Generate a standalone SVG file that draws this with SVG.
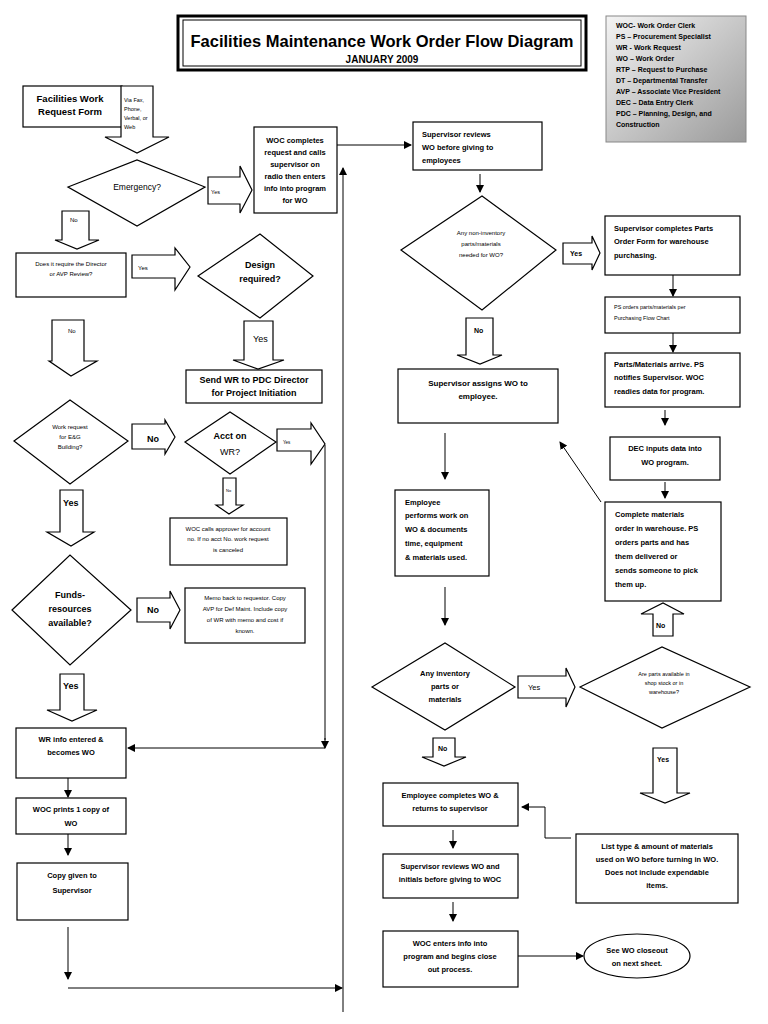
<svg xmlns="http://www.w3.org/2000/svg" width="768" height="1024" viewBox="0 0 768 1024">
<defs>
<marker id="ah" markerWidth="8" markerHeight="8" refX="7" refY="4" orient="auto" markerUnits="userSpaceOnUse"><path d="M0,0 L8,4 L0,8 Z" fill="#000"/></marker>
<linearGradient id="lg" x1="0" y1="0" x2="1" y2="1"><stop offset="0" stop-color="#f4f4f4"/><stop offset="1" stop-color="#9a9a9a"/></linearGradient>
</defs>
<style>
text{font-family:"Liberation Sans",Arial,sans-serif;fill:#000}
.b{font-weight:bold}
.box,.dia,.blk{fill:#fff;stroke:#000;stroke-width:1.2}
.ln{fill:none;stroke:#000;stroke-width:1;marker-end:url(#ah)}
.pl{fill:none;stroke:#000;stroke-width:1}
.s5{font-size:5.5px}.s6{font-size:6px}.s7{font-size:7.5px}.s9{font-size:9px}
</style>
<rect width="768" height="1024" fill="#fff"/>
<g id="title">
<rect x="178" y="16" width="408" height="54" fill="#fff" stroke="#000" stroke-width="3"/>
<rect x="183" y="20" width="398" height="46" fill="none" stroke="#000" stroke-width="1"/>
<text x="382" y="47" text-anchor="middle" class="b" font-size="16.5">Facilities Maintenance Work Order Flow Diagram</text>
<text x="382" y="63" text-anchor="middle" class="b" font-size="10">JANUARY 2009</text>
</g>
<g id="legend">
<rect x="606" y="16" width="140" height="126" fill="url(#lg)" stroke="#888"/>
<g class="b" font-size="7">
<text x="616" y="28">WOC-   Work Order Clerk</text>
<text x="616" y="39">PS – Procurement Specialist</text>
<text x="616" y="50">WR - Work Request</text>
<text x="616" y="61">WO – Work Order</text>
<text x="616" y="72">RTP – Request to Purchase</text>
<text x="616" y="83">DT – Departmental Transfer</text>
<text x="616" y="94">AVP – Associate Vice President</text>
<text x="616" y="105">DEC – Data Entry Clerk</text>
<text x="616" y="116">PDC – Planning, Design, and</text>
<text x="616" y="127">Construction</text>
</g>
</g>
<g id="connectors">
<line class="ln" x1="337" y1="145" x2="411" y2="145"/>
<line class="ln" x1="343" y1="1012" x2="343" y2="168"/>
<polyline class="pl" points="325,445 325,740"/>
<line class="ln" x1="325" y1="738" x2="325" y2="748"/>
<line class="ln" x1="325" y1="748" x2="128" y2="748"/>
<line class="ln" x1="68" y1="778" x2="68" y2="797"/>
<line class="ln" x1="68" y1="834" x2="68" y2="855"/>
<line class="ln" x1="68" y1="927" x2="68" y2="979"/>
<line class="ln" x1="68" y1="988" x2="342" y2="988"/>
<line class="ln" x1="480" y1="174" x2="480" y2="192"/>
<line class="ln" x1="673" y1="275" x2="673" y2="296"/>
<line class="ln" x1="673" y1="333" x2="673" y2="352"/>
<line class="ln" x1="665" y1="410" x2="665" y2="425"/>
<line class="ln" x1="665" y1="482" x2="665" y2="498"/>
<line class="ln" x1="601" y1="502" x2="560" y2="442"/>
<line class="ln" x1="445" y1="433" x2="445" y2="479"/>
<line class="ln" x1="445" y1="587" x2="445" y2="625"/>
<polyline class="ln" points="571,838 545,838 545,807 522,807"/>
<line class="ln" x1="453" y1="830" x2="453" y2="848"/>
<line class="ln" x1="453" y1="902" x2="453" y2="921"/>
<line class="ln" x1="518" y1="956" x2="583" y2="956"/>
</g>
<g id="n_request"><rect class="box" x="23" y="86" width="99" height="41"/><text class="b" font-size="9.5" text-anchor="middle"><tspan x="70" y="102">Facilities Work</tspan><tspan x="70" y="115">Request Form</tspan></text></g>
<g id="a_via"><path class="blk" d="M121,86 H153 V137 H169 L137,153 L105,137 H121 Z"/><text class="s5" fill="#444"><tspan x="124" y="102">Via Fax,</tspan><tspan x="124" y="111">Phone,</tspan><tspan x="124" y="120">Verbal, or</tspan><tspan x="124" y="129">Web</tspan></text></g>
<g id="n_emergency"><polygon class="dia" points="68,187 137,160 205,187 137,226"/><text x="137" y="190" text-anchor="middle" font-size="8.5">Emergency?</text></g>
<g id="a_emyes"><path class="blk" d="M208,177 H240 V166 L252,190 L240,213 V204 H208 Z"/><text x="211" y="194" class="s5">Yes</text></g>
<g id="n_woc"><rect class="box" x="254" y="58" width="0" height="0"/><rect class="box" x="254" y="127" width="83" height="86"/><text class="b s7" text-anchor="middle"><tspan x="295" y="143">WOC completes</tspan><tspan x="295" y="155">request and calls</tspan><tspan x="295" y="167">supervisor on</tspan><tspan x="295" y="179">radio then enters</tspan><tspan x="295" y="191">info into program</tspan><tspan x="295" y="203">for WO</tspan></text></g>
<g id="a_emno"><path class="blk" d="M62,211 H89 V240 H99 L77,249 L55,240 H62 Z"/><text x="70" y="222" class="s6">No</text></g>
<g id="n_director"><rect class="box" x="16" y="253" width="110" height="44"/><text class="s6" text-anchor="middle"><tspan x="71" y="266">Does it require the Director</tspan><tspan x="71" y="276">or AVP Review?</tspan></text></g>
<g id="a_diryes"><path class="blk" d="M132,255 H175 V248 L190,267 L175,290 V278 H132 Z"/><text x="138" y="270" class="s6">Yes</text></g>
<g id="n_design"><polygon class="dia" points="198,276 260,234 313,276 260,318"/><text x="260" y="268" text-anchor="middle" font-size="9" class="b">Design</text><text x="260" y="282" text-anchor="middle" font-size="9" class="b">required?</text></g>
<g id="a_desyes"><path class="blk" d="M244,321 H273 V360 H284 L258,369 L233,360 H244 Z"/><text x="253" y="342" class="s9">Yes</text></g>
<g id="n_send"><rect class="box" x="186" y="370" width="136" height="33"/><text class="b" font-size="9" text-anchor="middle"><tspan x="254" y="383">Send WR to PDC Director</tspan><tspan x="254" y="396">for Project Initiation</tspan></text></g>
<g id="a_dirno"><path class="blk" d="M52,320 H84 V361 H97 L71,376 L49,361 H52 Z"/><text x="68" y="333" class="s6">No</text></g>
<g id="n_eg"><polygon class="dia" points="14,441 70,400 128,441 70,484"/><text class="s6" text-anchor="middle"><tspan x="70" y="429">Work request</tspan><tspan x="70" y="439">for E&amp;G</tspan><tspan x="70" y="449">Building?</tspan></text></g>
<g id="a_egno"><path class="blk" d="M132,424 H165 V420 L175,437 L165,454 V449 H132 Z"/><text x="147" y="442" class="b s9">No</text></g>
<g id="n_acct"><polygon class="dia" points="185,442 230,412 276,442 230,474"/><text x="230" y="439" text-anchor="middle" class="b s9">Acct on</text><text x="230" y="455" text-anchor="middle" font-size="9">WR?</text></g>
<g id="a_acctyes"><path class="blk" d="M277,429 H311 V423 L325,444 L311,464 V451 H277 Z"/><text x="283" y="444" font-size="4.5">Yes</text></g>
<g id="a_acctno"><path class="blk" d="M223,478 H236 V505 H243 L229,514 L216,505 H223 Z"/><text x="226" y="492" font-size="4">No</text></g>
<g id="n_calls"><rect class="box" x="170" y="518" width="117" height="47"/><text class="s6" text-anchor="middle"><tspan x="228" y="531">WOC calls approver for account</tspan><tspan x="228" y="541">no. If no acct No. work request</tspan><tspan x="228" y="552">is canceled</tspan></text></g>
<g id="a_egyes"><path class="blk" d="M60,490 H83 V532 H94 L71,546 L47,532 H60 Z"/><text x="63" y="506" class="b s9">Yes</text></g>
<g id="n_funds"><polygon class="dia" points="12,610 70,555 131,610 70,665"/><text class="b s9" text-anchor="middle"><tspan x="70" y="598">Funds-</tspan><tspan x="70" y="612">resources</tspan><tspan x="70" y="626">available?</tspan></text></g>
<g id="a_fundsno"><path class="blk" d="M137,598 H170 V591 L180,610 L170,629 V622 H137 Z"/><text x="147" y="613" class="b s9">No</text></g>
<g id="n_memo"><rect class="box" x="185" y="588" width="120" height="55"/><text class="s6" text-anchor="middle"><tspan x="245" y="600">Memo back to requestor. Copy</tspan><tspan x="245" y="611">AVP for Def Maint. Include copy</tspan><tspan x="245" y="622">of WR with memo and cost if</tspan><tspan x="245" y="633">known.</tspan></text></g>
<g id="a_fundsyes"><path class="blk" d="M60,674 H84 V710 H97 L72,721 L47,710 H60 Z"/><text x="63" y="689" class="b s9">Yes</text></g>
<g id="n_wrinfo"><rect class="box" x="16" y="728" width="110" height="50"/><text class="b s7" text-anchor="middle"><tspan x="71" y="742">WR info entered &amp;</tspan><tspan x="71" y="755">becomes WO</tspan></text></g>
<g id="n_prints"><rect class="box" x="16" y="798" width="110" height="36"/><text class="b s7" text-anchor="middle"><tspan x="71" y="812">WOC prints 1 copy of</tspan><tspan x="71" y="826">WO</tspan></text></g>
<g id="n_copy"><rect class="box" x="17" y="863" width="111" height="57"/><text class="b s7" text-anchor="middle"><tspan x="72" y="878">Copy given to</tspan><tspan x="72" y="893">Supervisor</tspan></text></g>
<g id="n_supreview"><rect class="box" x="413" y="122" width="129" height="48"/><text class="b s7"><tspan x="422" y="137">Supervisor reviews</tspan><tspan x="422" y="150">WO before giving to</tspan><tspan x="422" y="163">employees</tspan></text></g>
<g id="n_noninv"><polygon class="dia" points="401,250 482,196 556,250 482,310"/><text class="s6" text-anchor="middle"><tspan x="481" y="235">Any non-inventory</tspan><tspan x="481" y="246">parts/materials</tspan><tspan x="481" y="257">needed for WO?</tspan></text></g>
<g id="a_noninvyes"><path class="blk" d="M563,243 H592 V236 L600,253 L592,270 V264 H563 Z"/><text x="570" y="256" class="b" font-size="7">Yes</text></g>
<g id="n_partsform"><rect class="box" x="605" y="216" width="135" height="59"/><text class="b s7"><tspan x="614" y="231">Supervisor completes Parts</tspan><tspan x="614" y="244">Order Form for warehouse</tspan><tspan x="614" y="258">purchasing.</tspan></text></g>
<g id="n_psorders"><rect class="box" x="605" y="297" width="135" height="36"/><text class="s5"><tspan x="614" y="309">PS orders parts/materials per</tspan><tspan x="614" y="320">Purchasing Flow Chart</tspan></text></g>
<g id="n_arrive"><rect class="box" x="605" y="353" width="135" height="54"/><text class="b s7"><tspan x="614" y="367">Parts/Materials arrive. PS</tspan><tspan x="614" y="380">notifies Supervisor. WOC</tspan><tspan x="614" y="394">readies data for program.</tspan></text></g>
<g id="n_dec"><rect class="box" x="610" y="437" width="110" height="43"/><text class="b s7" text-anchor="middle"><tspan x="665" y="451">DEC inputs data into</tspan><tspan x="665" y="465">WO program.</tspan></text></g>
<g id="n_complete"><rect class="box" x="605" y="502" width="116" height="99"/><text class="b s7"><tspan x="615" y="517">Complete materials</tspan><tspan x="615" y="531">order in warehouse. PS</tspan><tspan x="615" y="545">orders parts and has</tspan><tspan x="615" y="559">them delivered or</tspan><tspan x="615" y="573">sends someone to pick</tspan><tspan x="615" y="587">them up.</tspan></text></g>
<g id="a_noninvno"><path class="blk" d="M466,318 H493 V355 H502 L480,364 L457,355 H466 Z"/><text x="474" y="333" class="b" font-size="7">No</text></g>
<g id="n_assign"><rect class="box" x="398" y="369" width="160" height="54"/><text class="b" font-size="8" text-anchor="middle"><tspan x="478" y="386">Supervisor assigns WO to</tspan><tspan x="478" y="399">employee.</tspan></text></g>
<g id="n_performs"><rect class="box" x="395" y="490" width="94" height="86"/><text class="b s7"><tspan x="405" y="505">Employee</tspan><tspan x="405" y="518">performs work on</tspan><tspan x="405" y="532">WO &amp; documents</tspan><tspan x="405" y="546">time, equipment</tspan><tspan x="405" y="560">&amp; materials used.</tspan></text></g>
<g id="n_inventory"><polygon class="dia" points="372,687 445,643 515,687 445,730"/><text class="b s7" text-anchor="middle"><tspan x="445" y="676">Any inventory</tspan><tspan x="445" y="689">parts or</tspan><tspan x="445" y="702">materials</tspan></text></g>
<g id="a_invyes"><path class="blk" d="M518,676 H566 V668 L575,687 L566,707 V698 H518 Z"/><text x="528" y="690" class="s7">Yes</text></g>
<g id="a_invno"><path class="blk" d="M433,738 H455 V757 H466 L444,766 L422,757 H433 Z"/><text x="438" y="751" class="b" font-size="7">No</text></g>
<g id="n_available"><polygon class="dia" points="580,687 662,647 750,687 662,728"/><text class="s5" text-anchor="middle"><tspan x="664" y="676">Are parts available in</tspan><tspan x="664" y="685">shop stock or in</tspan><tspan x="664" y="694">warehouse?</tspan></text></g>
<g id="a_availno"><path class="blk" d="M653,636 H673 V614 H684 L663,603 L641,614 H653 Z"/><text x="656" y="628" class="b" font-size="7">No</text></g>
<g id="a_availyes"><path class="blk" d="M653,748 H677 V793 H690 L665,803 L640,793 H653 Z"/><text x="657" y="762" class="b" font-size="7">Yes</text></g>
<g id="n_empcomplete"><rect class="box" x="383" y="783" width="135" height="43"/><text class="b s7" text-anchor="middle"><tspan x="450" y="798">Employee completes WO &amp;</tspan><tspan x="450" y="811">returns to supervisor</tspan></text></g>
<g id="n_listtype"><rect class="box" x="576" y="834" width="162" height="69"/><text class="b s7" text-anchor="middle"><tspan x="657" y="849">List type &amp; amount of materials</tspan><tspan x="657" y="862">used on WO before turning in WO.</tspan><tspan x="657" y="875">Does not include expendable</tspan><tspan x="657" y="888">items.</tspan></text></g>
<g id="n_supinitials"><rect class="box" x="383" y="854" width="135" height="44"/><text class="b s7" text-anchor="middle"><tspan x="450" y="869">Supervisor reviews WO and</tspan><tspan x="450" y="882">initials before giving to WOC</tspan></text></g>
<g id="n_wocenters"><rect class="box" x="383" y="931" width="135" height="56"/><text class="b s7" text-anchor="middle"><tspan x="450" y="946">WOC enters info into</tspan><tspan x="450" y="959">program and begins close</tspan><tspan x="450" y="972">out process.</tspan></text></g>
<g id="n_closeout"><ellipse class="box" cx="637" cy="956" rx="53" ry="22"/><text class="b s7" text-anchor="middle"><tspan x="637" y="953">See WO closeout</tspan><tspan x="637" y="966">on next sheet.</tspan></text></g>
</svg>
